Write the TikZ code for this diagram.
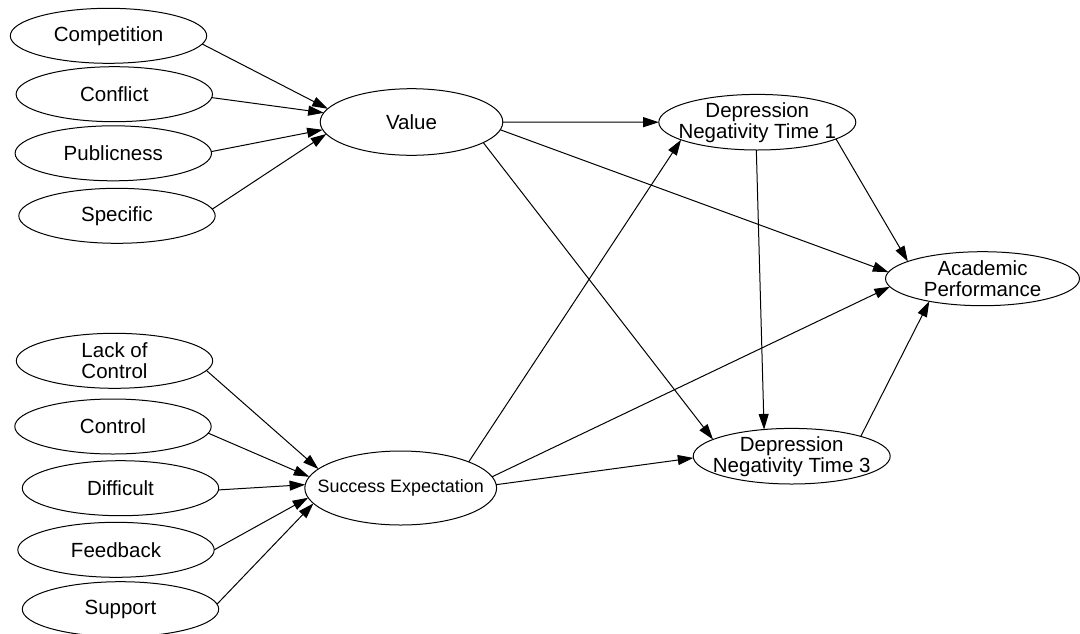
\documentclass[tikz,border=0pt]{standalone}
\usepackage{fontspec}
\setmainfont{Liberation Sans}
\usetikzlibrary{shapes.geometric,arrows.meta}
\begin{document}
\begin{tikzpicture}[x=0.5pt,y=-0.5pt,
  oval/.style={ellipse,draw,line width=0.5pt,inner sep=0pt,outer sep=0pt,
               minimum width=98.2pt,minimum height=27.5pt},
  lbl/.style={font=\fontsize{10.25}{10.5}\selectfont,align=center,inner sep=0pt},
  small/.style={font=\fontsize{8.95}{10}\selectfont,align=center,inner sep=0pt},
  link/.style={-{Triangle[length=7.8pt,width=5pt]},line width=0.5pt}]
\useasboundingbox (0,0) rectangle (1080,633);
\clip (0,0) rectangle (1080,633);

% value antecedents
\node[oval,label={[lbl]center:Competition}] (comp) at (108.5,35.8) {};
\node[oval,label={[lbl]center:Conflict}] (conf) at (114.3,94.2) {};
\node[oval,label={[lbl]center:Publicness}] (pub) at (113.3,153.3) {};
\node[oval,label={[lbl]center:Specific}] (spec) at (117,215.8) {};

% expectation antecedents
\node[oval,label={[lbl]center:{Lack of\\Control}}] (lack) at (114.5,360.8) {};
\node[oval,label={[lbl]center:Control}] (ctrl) at (113,426.5) {};
\node[oval,label={[lbl]center:Difficult}] (diff) at (120.5,488.2) {};
\node[oval,label={[lbl]center:Feedback}] (feed) at (116,549.8) {};
\node[oval,label={[lbl]center:Support}] (supp) at (120.5,609.2) {};

% mediators and outcome
\node[oval,minimum width=91.3pt,minimum height=33.3pt,label={[lbl]center:Value}] (val) at (411.5,122) {};
\node[oval,minimum width=95.9pt,minimum height=37pt,label={[small]center:Success Expectation}] (se) at (400.7,488) {};
\node[oval,minimum width=98.5pt,minimum height=27.8pt,label={[lbl]center:{Depression\\Negativity Time 1}}] (dn1) at (757.3,122.2) {};
\node[oval,minimum width=98.5pt,minimum height=27.8pt,label={[lbl]center:{Depression\\Negativity Time 3}}] (dn3) at (791.7,456.2) {};
\node[oval,minimum width=97pt,minimum height=27pt,label={[lbl]center:{Academic\\Performance}}] (acad) at (982.5,278.7) {};

% paths into value
\draw[link] (comp.-5.5) -- (val.171);
\draw[link] (conf.-2.8) -- (val.174.6);
\draw[link] (pub.1.9) -- (val.185);
\draw[link] (spec.4) -- (val.188.4);

% paths into success expectation
\draw[link] (lack.-6.6) -- (se.167.3);
\draw[link] (ctrl.-4) -- (se.173.2);
\draw[link] (diff.-1) -- (se.178.2);
\draw[link] (feed.0.9) -- (se.186.5);
\draw[link] (supp.3.8) -- (se.190.4);

% structural paths
\draw[link] (val.east) -- (dn1.west);
\draw[link] (val.-5.4) -- (acad.176.8);
\draw[link] (val.-16.9) -- (dn3.168.2);
\draw[link] (se.21) -- (dn1.193.2);
\draw[link] (se.7.4) -- (acad.185.2);
\draw[link] (se.2.4) -- (dn3.181.2);
\draw[link] (dn1.-12.9) -- (acad.167.9);
\draw[link] (dn1.268.5) -- (dn3.136.8);
\draw[link] (dn3.16) -- (acad.203.8);
\end{tikzpicture}
\end{document}
